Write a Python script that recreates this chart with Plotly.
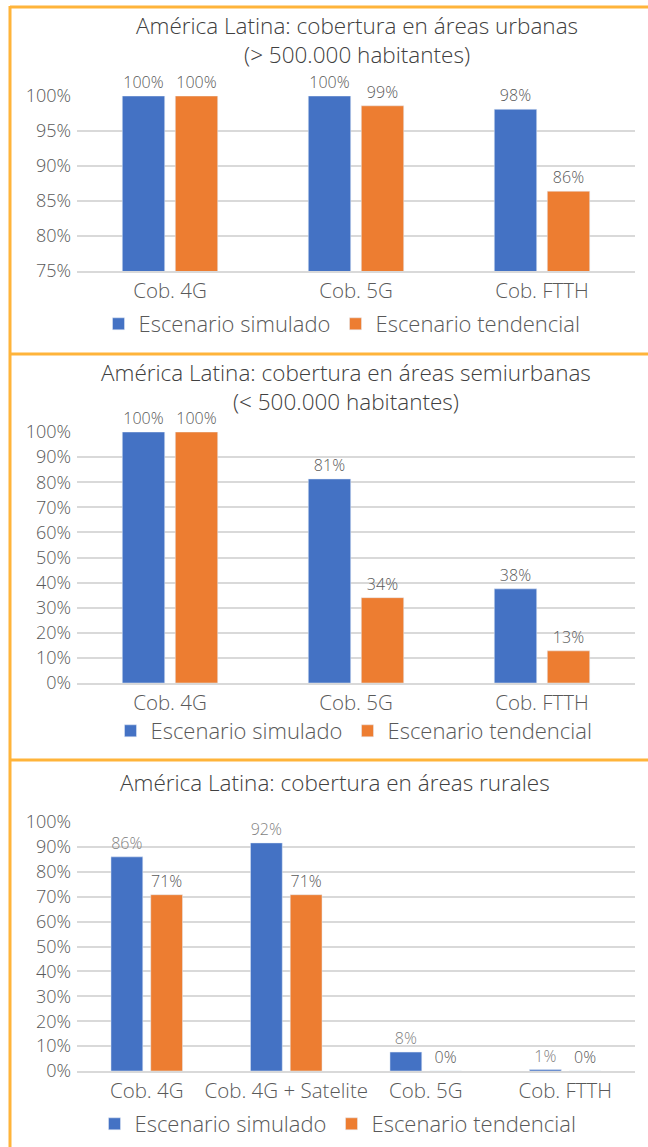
import plotly.graph_objects as go

# ---------------- data ----------------
series_names = ["Escenario simulado", "Escenario tendencial"]

title_lines = [
    ["América Latina: cobertura en áreas urbanas", "(> 500.000 habitantes)"],
    ["América Latina: cobertura en áreas semiurbanas", "(< 500.000 habitantes)"],
    ["América Latina: cobertura en áreas rurales"],
]

cats_urban = ["Cob. 4G", "Cob. 5G", "Cob. FTTH"]
urban_sim = [100, 100, 98.1]
urban_ten = [100, 98.6, 86.4]

cats_semi = ["Cob. 4G", "Cob. 5G", "Cob. FTTH"]
semi_sim = [100, 81.3, 37.5]
semi_ten = [100, 34.0, 12.8]

cats_rural = ["Cob. 4G", "Cob. 4G + Satelite", "Cob. 5G", "Cob. FTTH"]
rural_sim = [86.0, 91.6, 7.6, 0.6]
rural_ten = [70.8, 70.8, 0.0, 0.0]

urban_ticks = [75, 80, 85, 90, 95, 100]
pct_ticks = [0, 10, 20, 30, 40, 50, 60, 70, 80, 90, 100]

# ---------------- style ----------------
W, H = 648, 1147
BLUE = "#4472C4"
ORANGE = "#ED7D31"
TXT = "#595959"
GRID = "#D9D9D9"
BORDER = "#FFB43A"
FONT = "Open Sans"
WEIGHT = 300


def py(px):
    return 1 - px / H


def px_x(px):
    return px / W


fig = go.Figure()

panels = [
    dict(cats=cats_urban, sim=urban_sim, ten=urban_ten, n=1, top=96, bot=271,
         rng=[75, 100], ticks=urban_ticks, leg_y=324, leg_x=342, sim_col=TXT),
    dict(cats=cats_semi, sim=semi_sim, ten=semi_ten, n=2, top=432, bot=683,
         rng=[0, 100], ticks=pct_ticks, leg_y=731, leg_x=354, sim_col=TXT),
    dict(cats=cats_rural, sim=rural_sim, ten=rural_ten, n=3, top=822, bot=1071,
         rng=[0, 100], ticks=pct_ticks, leg_y=1124, leg_x=338, sim_col="#7F7F7F"),
]

xdom = [px_x(77), px_x(635)]

for p in panels:
    n = p["n"]
    xa = "x" if n == 1 else f"x{n}"
    ya = "y" if n == 1 else f"y{n}"
    lg = "legend" if n == 1 else f"legend{n}"
    fig.add_trace(go.Bar(
        x=p["cats"], y=p["sim"], name=series_names[0], marker_color=BLUE,
        xaxis=xa, yaxis=ya, legend=lg,
        texttemplate="%{y:.0f}%", textposition="outside", cliponaxis=False,
        textfont=dict(family=FONT, size=16, color=p["sim_col"], weight=WEIGHT),
    ))
    fig.add_trace(go.Bar(
        x=p["cats"], y=p["ten"], name=series_names[1], marker_color=ORANGE,
        xaxis=xa, yaxis=ya, legend=lg,
        texttemplate="%{y:.0f}%", textposition="outside", cliponaxis=False,
        textfont=dict(family=FONT, size=16, color=TXT, weight=WEIGHT),
    ))
    xkey = "xaxis" if n == 1 else f"xaxis{n}"
    ykey = "yaxis" if n == 1 else f"yaxis{n}"
    fig.update_layout(**{
        xkey: dict(domain=xdom, anchor=ya, showgrid=False, tickangle=0,
                   automargin=False, fixedrange=True,
                   showline=True, linecolor=GRID, linewidth=2,
                   tickfont=dict(family=FONT, size=20.5, color=TXT, weight=WEIGHT),
                   ticks=""),
        ykey: dict(domain=[py(p["bot"]), py(p["top"])], anchor=xa,
                   automargin=False, fixedrange=True,
                   range=p["rng"], tickmode="array", tickvals=p["ticks"],
                   ticktext=[f"{v}%" for v in p["ticks"]],
                   showgrid=True, gridcolor=GRID, gridwidth=2, zeroline=False,
                   showline=False, ticks="", ticklabelstandoff=5,
                   tickfont=dict(family=FONT, size=18, color=TXT, weight=WEIGHT)),
        lg: dict(orientation="h", x=px_x(p["leg_x"]), xanchor="center",
                 y=py(p["leg_y"]), yanchor="middle",
                 font=dict(family=FONT, size=22, color=TXT, weight=WEIGHT),
                 bgcolor="rgba(0,0,0,0)", traceorder="normal"),
    })

# titles (one multi-line annotation per panel)
title_pos = [(357, 40), (346, 387), (335, 782)]
for lines, (tx, ty) in zip(title_lines, title_pos):
    fig.add_annotation(text="<br>".join(lines), x=px_x(tx), y=py(ty),
                       xref="paper", yref="paper",
                       showarrow=False, xanchor="center", yanchor="middle",
                       font=dict(family=FONT, size=22.5, color="#404040",
                                 weight=WEIGHT))

# panel borders
shapes = [
    dict(type="line", x0=px_x(10), x1=1, y0=py(7), y1=py(7)),
    dict(type="line", x0=px_x(10), x1=1, y0=py(354), y1=py(354)),
    dict(type="line", x0=px_x(10), x1=1, y0=py(760), y1=py(760)),
    dict(type="line", x0=px_x(10), x1=px_x(10), y0=py(6), y1=0),
]
for s in shapes:
    s.update(xref="paper", yref="paper", line=dict(color=BORDER, width=3))
fig.update_layout(shapes=shapes)

fig.update_layout(
    width=W, height=H, margin=dict(l=0, r=0, t=0, b=0, autoexpand=False),
    paper_bgcolor="white", plot_bgcolor="white",
    barmode="group", bargap=0.43, bargroupgap=0.2,
    font=dict(family=FONT, color=TXT),
)

fig.write_html(
    "out.html",
    config={"displayModeBar": False},
    post_script="document.body.style.margin='0';document.body.style.overflow='hidden';",
)
